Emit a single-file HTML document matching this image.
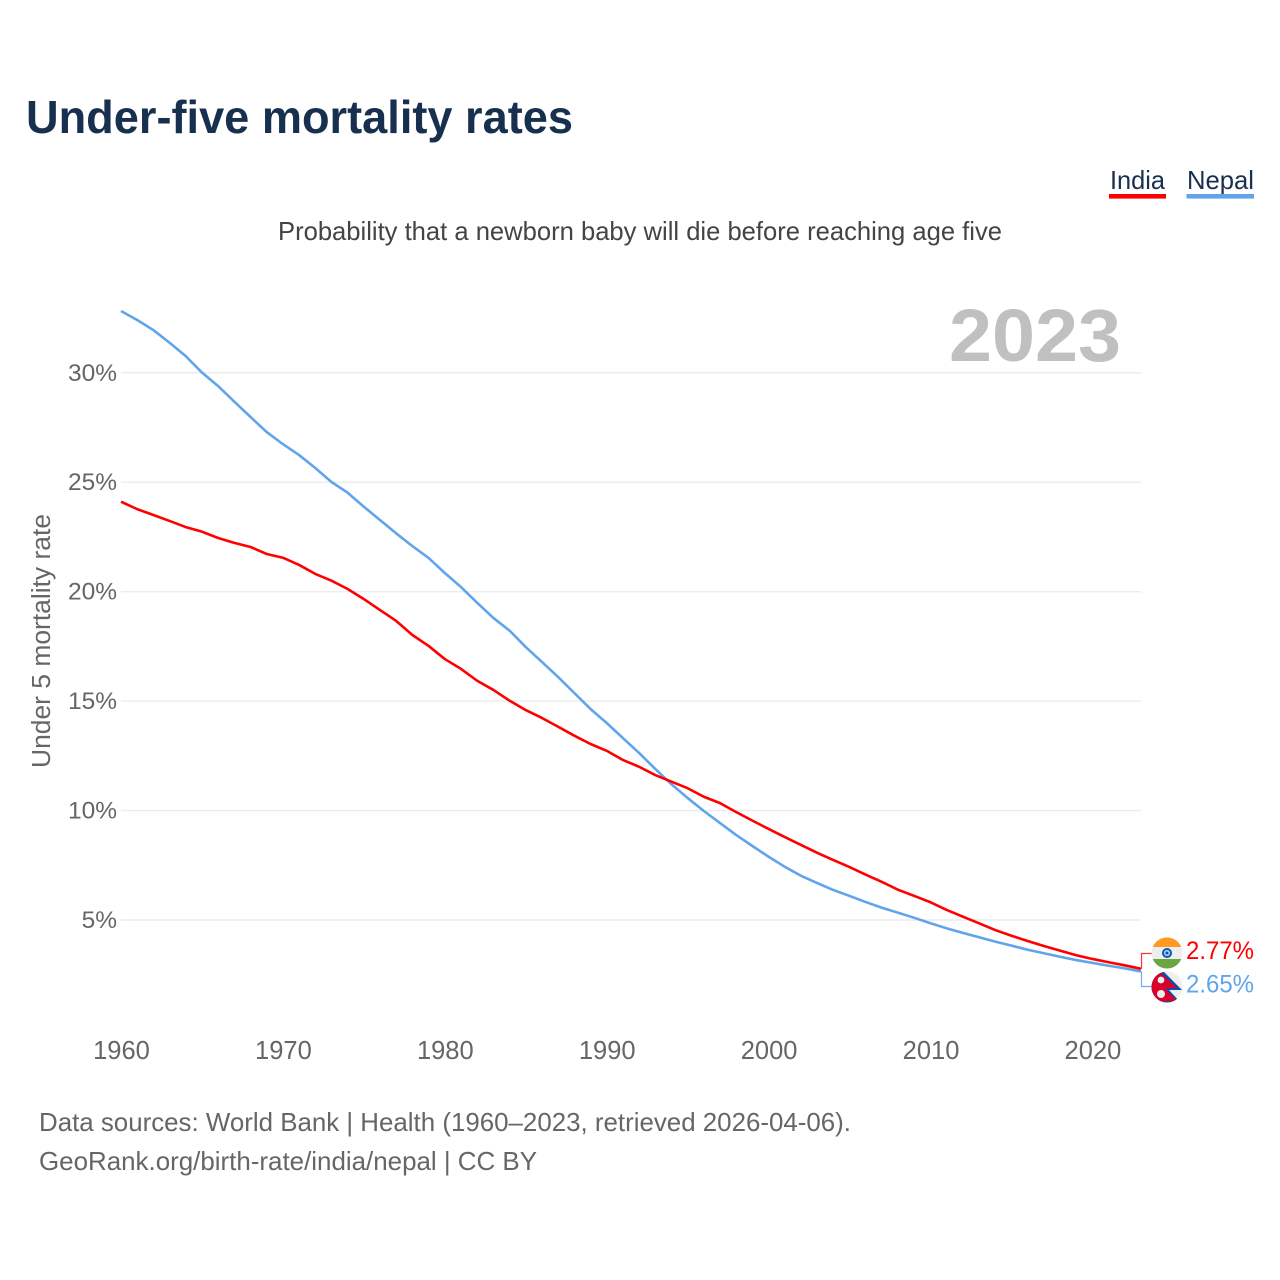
<!DOCTYPE html>
<html lang="en">
<head>
<meta charset="utf-8">
<title>Under-five mortality rates</title>
<style>
html,body{margin:0;padding:0;background:#fff;width:1280px;height:1280px;overflow:hidden}
svg{display:block;font-family:"Liberation Sans",sans-serif}
</style>
</head>
<body>
<svg id="chart" width="1280" height="1280" viewBox="0 0 1280 1280" xmlns="http://www.w3.org/2000/svg">
  <defs>
    <clipPath id="clip-india"><circle cx="1167" cy="953" r="15.5"/></clipPath>
    <clipPath id="clip-nepal"><circle cx="1167" cy="987" r="15.5"/></clipPath>
  </defs>
  <rect width="1280" height="1280" fill="#fff"/>
  <text x="26" y="133" font-size="46" font-weight="700" fill="#17304f" textLength="547" lengthAdjust="spacingAndGlyphs">Under-five mortality rates</text>

  <g>
    <text x="1110" y="189" font-size="26" fill="#1a3050" textLength="55" lengthAdjust="spacingAndGlyphs">India</text>
    <rect x="1109" y="194" width="57" height="4.6" fill="#ff0000"/>
  </g>
  <g>
    <text x="1187" y="189" font-size="26" fill="#1a3050" textLength="67" lengthAdjust="spacingAndGlyphs">Nepal</text>
    <rect x="1186.5" y="194" width="67.5" height="4.6" fill="#60a5ec"/>
  </g>

  <text x="278" y="240" font-size="26" fill="#444" textLength="724" lengthAdjust="spacingAndGlyphs">Probability that a newborn baby will die before reaching age five</text>

  <g id="grid"></g>
  <text x="949" y="361" font-size="74" font-weight="700" fill="#c0c0c0" textLength="172" lengthAdjust="spacingAndGlyphs">2023</text>
  <g id="y-ticks"></g>
  <g id="x-ticks"></g>
  <text transform="translate(50 641) rotate(-90)" text-anchor="middle" font-size="25.5" fill="#666" textLength="254" lengthAdjust="spacingAndGlyphs">Under 5 mortality rate</text>

  <g id="series"></g>

  <g clip-path="url(#clip-india)">
    <rect x="1150" y="936" width="34" height="36" fill="#eeeeee"/>
    <rect x="1150" y="936" width="34" height="11" fill="#ff9a1f"/>
    <rect x="1150" y="959" width="34" height="12" fill="#6da544"/>
    <circle cx="1167" cy="953" r="5" fill="#0052b4"/>
    <circle cx="1167" cy="953" r="3.2" fill="#a9c3e6"/>
    <circle cx="1167" cy="953" r="1.4" fill="#0052b4"/>
  </g>
  <g clip-path="url(#clip-nepal)">
    <rect x="1150" y="970" width="34" height="35" fill="#eeeeee"/>
    <polygon points="1150,972 1163,971 1182,990 1169,990 1181,1003 1150,1004" fill="#0052b4"/>
    <polygon points="1150,973 1161,973 1177.5,988.3 1165,988.3 1177,1001 1150,1002" fill="#d80027"/>
    <circle cx="1161" cy="980" r="3.4" fill="#eeeeee"/>
    <circle cx="1161" cy="994" r="4" fill="#eeeeee"/>
  </g>

  <text id="value-india" x="1186" y="959" font-size="25" fill="#ff0000" textLength="68" lengthAdjust="spacingAndGlyphs"></text>
  <text id="value-nepal" x="1186" y="992.5" font-size="25" fill="#60a5ec" textLength="68" lengthAdjust="spacingAndGlyphs"></text>

  <text x="39" y="1131" font-size="26" fill="#666" textLength="812" lengthAdjust="spacingAndGlyphs">Data sources: World Bank | Health (1960–2023, retrieved 2026-04-06).</text>
  <text x="39" y="1170" font-size="26" fill="#666" textLength="498" lengthAdjust="spacingAndGlyphs">GeoRank.org/birth-rate/india/nepal | CC BY</text>
</svg>
<script>
const firstYear = 1960;
const lastYear = 2023;
const xTickYears = [1960, 1970, 1980, 1990, 2000, 2010, 2020];
const yTickValues = [5, 10, 15, 20, 25, 30];
const indiaValues = [24.11,23.77,23.50,23.23,22.95,22.74,22.45,22.23,22.04,21.72,
  21.55,21.22,20.81,20.50,20.12,19.66,19.16,18.66,18.02,17.52,
  16.92,16.47,15.93,15.51,15.02,14.59,14.23,13.83,13.42,13.04,
  12.73,12.31,12.00,11.62,11.32,11.02,10.63,10.34,9.93,9.54,
  9.16,8.79,8.43,8.07,7.74,7.42,7.07,6.74,6.38,6.10,
  5.81,5.46,5.15,4.85,4.54,4.28,4.04,3.81,3.60,3.39,
  3.22,3.07,2.93,2.77];
const nepalValues = [32.82,32.41,31.95,31.37,30.76,30.01,29.39,28.68,27.98,27.29,
  26.74,26.24,25.65,25.01,24.52,23.88,23.27,22.66,22.08,21.54,
  20.85,20.21,19.49,18.80,18.22,17.47,16.79,16.10,15.37,14.64,
  14.00,13.31,12.63,11.90,11.20,10.57,9.98,9.43,8.88,8.38,
  7.89,7.43,7.02,6.69,6.37,6.10,5.82,5.56,5.33,5.10,
  4.85,4.62,4.41,4.21,4.01,3.83,3.64,3.48,3.32,3.17,
  3.04,2.91,2.79,2.65];

const NS = 'http://www.w3.org/2000/svg';
function xScale(year) { return 121 + (year - firstYear) * (1141 - 121) / (lastYear - firstYear); }
function yScale(value) { return 920 - (value - 5) * 21.89; }
function make(tag, attrs, parent) {
  const el = document.createElementNS(NS, tag);
  Object.keys(attrs).forEach(function (k) { el.setAttribute(k, attrs[k]); });
  parent.appendChild(el);
  return el;
}

const grid = document.getElementById('grid');
const yTicks = document.getElementById('y-ticks');
yTickValues.forEach(function (v) {
  const line = make('line', {x1: xScale(firstYear), x2: xScale(lastYear), y1: yScale(v), y2: yScale(v), stroke: '#ececec', 'stroke-width': 1.4}, grid);
  
  
  const label = make('text', {x: 117, y: yScale(v) + 8, 'text-anchor': 'end', 'font-size': 24.5, fill: '#666'}, yTicks);
  label.textContent = v + '%';
  
  
});

const xTicks = document.getElementById('x-ticks');
xTickYears.forEach(function (yr) {
  const label = make('text', {x: xScale(yr) + 0.5, y: 1059, 'text-anchor': 'middle', 'font-size': 25.5, fill: '#666'}, xTicks);
  label.textContent = yr;
  
  
});

function pathFor(values) {
  return values.map(function (v, i) {
    return (i ? 'L' : 'M') + xScale(firstYear + i).toFixed(2) + ' ' + yScale(v).toFixed(2);
  }).join(' ');
}

const seriesGroup = document.getElementById('series');
const nepalLine = make('path', {d: pathFor(nepalValues), fill: 'none', stroke: '#60a5ec', 'stroke-width': 2.6, 'stroke-linejoin': 'round'}, seriesGroup);


const indiaLine = make('path', {d: pathFor(indiaValues), fill: 'none', stroke: '#ff0000', 'stroke-width': 2.6, 'stroke-linejoin': 'round'}, seriesGroup);



const indiaLast = indiaValues[indiaValues.length - 1];
const nepalLast = nepalValues[nepalValues.length - 1];
const endX = xScale(lastYear) + 0.5;
const connectorIndia = make('path', {d: 'M' + endX + ' ' + yScale(indiaLast) + ' V953.5 H1152', fill: 'none', stroke: '#ff0000', 'stroke-width': 1.2, opacity: 0.8}, seriesGroup);


const connectorNepal = make('path', {d: 'M' + endX + ' ' + yScale(nepalLast) + ' V986.5 H1152', fill: 'none', stroke: '#60a5ec', 'stroke-width': 1.2, opacity: 0.9}, seriesGroup);



document.getElementById('value-india').textContent = indiaLast.toFixed(2) + '%';
document.getElementById('value-nepal').textContent = nepalLast.toFixed(2) + '%';
</script>
</body>
</html>
